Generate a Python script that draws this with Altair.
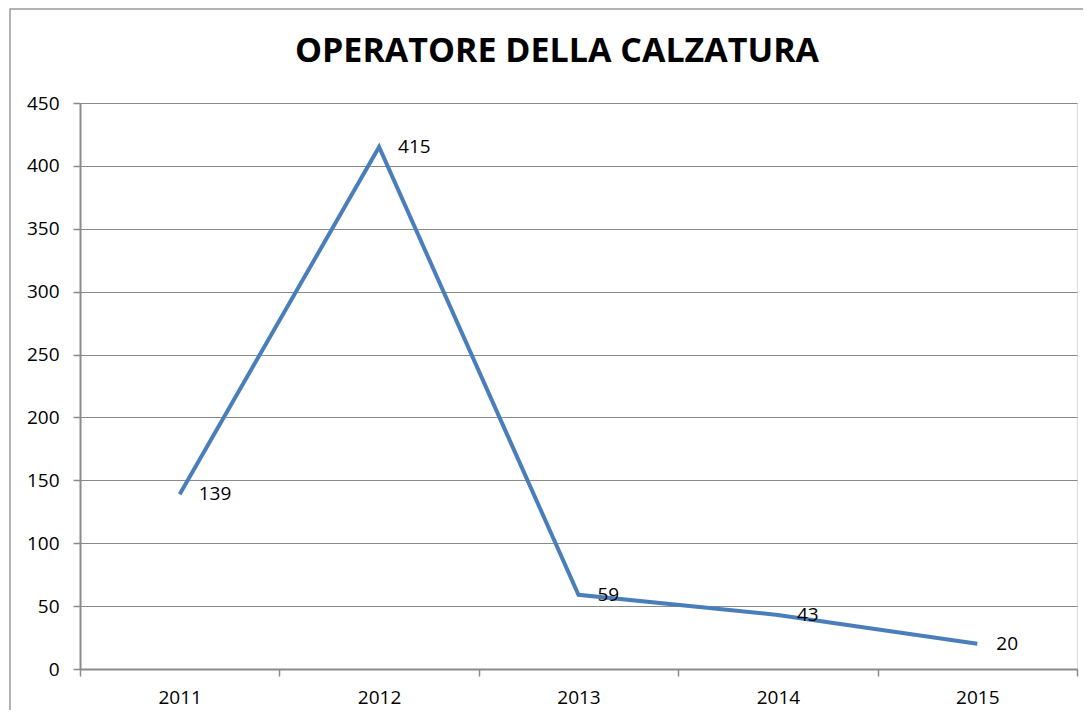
import altair as alt
import pandas as pd

years = [2011, 2012, 2013, 2014, 2015]
values = [139, 415, 59, 43, 20]
title_text = "OPERATORE DELLA CALZATURA"
y_ticks = [0, 50, 100, 150, 200, 250, 300, 350, 400, 450]
x_edges = [2010.5, 2011.5, 2012.5, 2013.5, 2014.5, 2015.5]

df = pd.DataFrame({"year": years, "value": values})
one = pd.DataFrame({"k": [0]})

W, H = 997, 566
FONT = "Open Sans"
GRID = "#8a8a8a"
LINE = "#4a7ebb"

x_enc = alt.X(
    "year:Q",
    scale=alt.Scale(domain=[2010.5, 2015.5], nice=False, zero=False),
    axis=alt.Axis(
        values=x_edges,
        labelExpr="datum.value < 2015 ? format(datum.value + 0.5, 'd') : ''",
        labelOffset=W / 10,
        labelFlush=False,
        labelOverlap=False,
        labelBound=False,
        grid=False,
        title=None,
        tickSize=7,
        tickColor=GRID,
        tickWidth=1.5,
        domainColor=GRID,
        domainWidth=2,
        labelPadding=12,
        labelFont=FONT,
        labelFontSize=19,
        labelColor="black",
    ),
)
y_enc = alt.Y(
    "value:Q",
    scale=alt.Scale(domain=[0, 450], nice=False),
    axis=alt.Axis(
        values=y_ticks,
        grid=True,
        gridColor=GRID,
        gridWidth=1,
        title=None,
        tickSize=7,
        tickColor=GRID,
        tickWidth=1.5,
        domainColor=GRID,
        domainWidth=2,
        labelPadding=14,
        labelFont=FONT,
        labelFontSize=19,
        labelColor="black",
    ),
)

line = alt.Chart(df).mark_line(color=LINE, strokeWidth=4).encode(x=x_enc, y=y_enc)
labels = alt.Chart(df).mark_text(
    align="left", baseline="middle", dx=19, font=FONT, fontSize=19, color="black"
).encode(x="year:Q", y="value:Q", text="value:Q")

border = alt.Chart(one).mark_rect(fill=None, stroke="#9a9a9a", strokeWidth=1.5).encode(
    x=alt.value(-70), x2=alt.value(W + 100), y=alt.value(-94), y2=alt.value(H + 200)
)
title = alt.Chart(one).mark_text(
    text=title_text, font=FONT, fontSize=34, fontWeight="bold", color="black",
    align="center", baseline="alphabetic"
).encode(x=alt.value(477), y=alt.value(-41))

chart = alt.layer(border, line, labels, title).properties(
    width=W, height=H,
    autosize=alt.AutoSizeParams(type="none"),
    padding={"left": 72, "top": 95, "right": 6, "bottom": 41},
).configure_view(stroke=None).configure(background="white")

chart.save("out.html", embed_options={"renderer": "svg", "actions": False})
